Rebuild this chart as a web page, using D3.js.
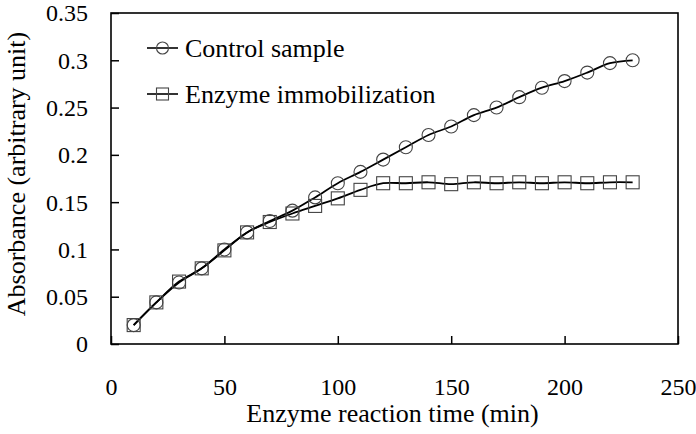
<!doctype html>
<html>
<head>
<meta charset="utf-8">
<style>
  body { margin: 0; background: #fff; }
  .axis path, .axis line { stroke: #000; stroke-width: 1.5; }
</style>
<script src="https://d3js.org/d3.v7.min.js"></script>
</head>
<body>
<svg width="696" height="434"></svg>
<script>
// data
var times = [10, 20, 30, 40, 50, 60, 70, 80, 90, 100, 110, 120, 130, 140, 150, 160, 170, 180, 190, 200, 210, 220, 230];
var control = [0.020, 0.044, 0.065, 0.080, 0.100, 0.118, 0.130, 0.141, 0.155, 0.170, 0.182, 0.195, 0.208, 0.221, 0.230, 0.242, 0.250, 0.261, 0.271, 0.278, 0.287, 0.297, 0.300];
var immobilized = [0.020, 0.044, 0.066, 0.080, 0.099, 0.118, 0.129, 0.138, 0.146, 0.154, 0.163, 0.170, 0.170, 0.171, 0.169, 0.171, 0.170, 0.171, 0.170, 0.171, 0.170, 0.171, 0.171];
var seriesNames = ["Control sample", "Enzyme immobilization"];
var xTicks = [0, 50, 100, 150, 200, 250];
var yTicks = [0, 0.05, 0.1, 0.15, 0.2, 0.25, 0.3, 0.35];
var yTickLabels = ["0", "0.05", "0.1", "0.15", "0.2", "0.25", "0.3", "0.35"];

var serif = "'Liberation Serif', 'Times New Roman', Times, 'DejaVu Serif', serif";

var svg = d3.select("svg");
var plotL = 111, plotR = 678, plotT = 13, plotB = 344;

var x = d3.scaleLinear().domain([0, 250]).range([plotL, plotR]);
var y = d3.scaleLinear().domain([0, 0.35]).range([plotB, plotT]);

// x axis, ticks pointing inward
var gx = svg.append("g").attr("class", "axis")
    .attr("transform", "translate(0," + plotB + ")")
    .call(d3.axisBottom(x).tickValues(xTicks).tickSizeInner(-8).tickSizeOuter(0));
gx.attr("font-family", null).attr("font-size", null);
gx.selectAll("text").attr("y", 51).attr("dy", null)
    .style("font-family", serif).style("font-size", "24px").attr("fill", "#000");
gx.select(".domain").remove();

var gy = svg.append("g").attr("class", "axis")
    .attr("transform", "translate(" + plotL + ",0)")
    .call(d3.axisLeft(y).tickValues(yTicks).tickSizeInner(-8).tickSizeOuter(0)
        .tickFormat(function(d, i) { return yTickLabels[i]; }));
gy.attr("font-family", null).attr("font-size", null);
gy.selectAll("text").attr("x", -23).attr("dy", "0.33em")
    .style("font-family", serif).style("font-size", "24px").attr("fill", "#000");
gy.select(".domain").remove();

// plot frame
svg.append("rect")
    .attr("x", plotL).attr("y", plotT)
    .attr("width", plotR - plotL).attr("height", plotB - plotT)
    .attr("fill", "none").attr("stroke", "#000").attr("stroke-width", 1.6);

// axis titles
svg.append("text")
    .attr("x", (plotL + plotR) / 2 - 2).attr("y", 422)
    .attr("text-anchor", "middle")
    .style("font-family", serif).style("font-size", "26px")
    .text("Enzyme reaction time (min)");
svg.append("text")
    .attr("transform", "translate(25,174) rotate(-90)")
    .attr("text-anchor", "middle")
    .style("font-family", serif).style("font-size", "26px")
    .text("Absorbance (arbitrary unit)");

var line = d3.line()
    .x(function(d) { return x(d[0]); })
    .y(function(d) { return y(d[1]); })
    .curve(d3.curveCatmullRom);

var ctrlData = times.map(function(t, i) { return [t, control[i]]; });
var immData = times.map(function(t, i) { return [t, immobilized[i]]; });

svg.append("path").datum(ctrlData).attr("d", line)
    .attr("fill", "none").attr("stroke", "#000").attr("stroke-width", 1.8);
svg.append("path").datum(immData).attr("d", line)
    .attr("fill", "none").attr("stroke", "#000").attr("stroke-width", 1.8);

svg.selectAll(".circ").data(ctrlData).enter().append("circle")
    .attr("class", "circ")
    .attr("cx", function(d) { return x(d[0]); })
    .attr("cy", function(d) { return y(d[1]); })
    .attr("r", 6.5)
    .attr("fill", "none").attr("stroke", "#444").attr("stroke-width", 1.1);

svg.selectAll(".sq").data(immData).enter().append("rect")
    .attr("class", "sq")
    .attr("x", function(d) { return x(d[0]) - 6.5; })
    .attr("y", function(d) { return y(d[1]) - 6.5; })
    .attr("width", 13).attr("height", 13)
    .attr("fill", "none").attr("stroke", "#444").attr("stroke-width", 1.1);

// legend
var legend = svg.append("g");
var legY = [48, 94];
legend.selectAll("line").data(seriesNames).enter().append("line")
    .attr("x1", 147).attr("x2", 178)
    .attr("y1", function(d, i) { return legY[i]; })
    .attr("y2", function(d, i) { return legY[i]; })
    .attr("stroke", "#000").attr("stroke-width", 1.6);
legend.append("circle").attr("cx", 162.5).attr("cy", legY[0]).attr("r", 6)
    .attr("fill", "none").attr("stroke", "#444").attr("stroke-width", 1.1);
legend.append("rect").attr("x", 156.5).attr("y", legY[1] - 6).attr("width", 12).attr("height", 12)
    .attr("fill", "none").attr("stroke", "#444").attr("stroke-width", 1.1);
legend.selectAll("text").data(seriesNames).enter().append("text")
    .attr("x", 185)
    .attr("y", function(d, i) { return legY[i] + 9; })
    .style("font-family", serif).style("font-size", "26px")
    .text(function(d) { return d; });
</script>
</body>
</html>
